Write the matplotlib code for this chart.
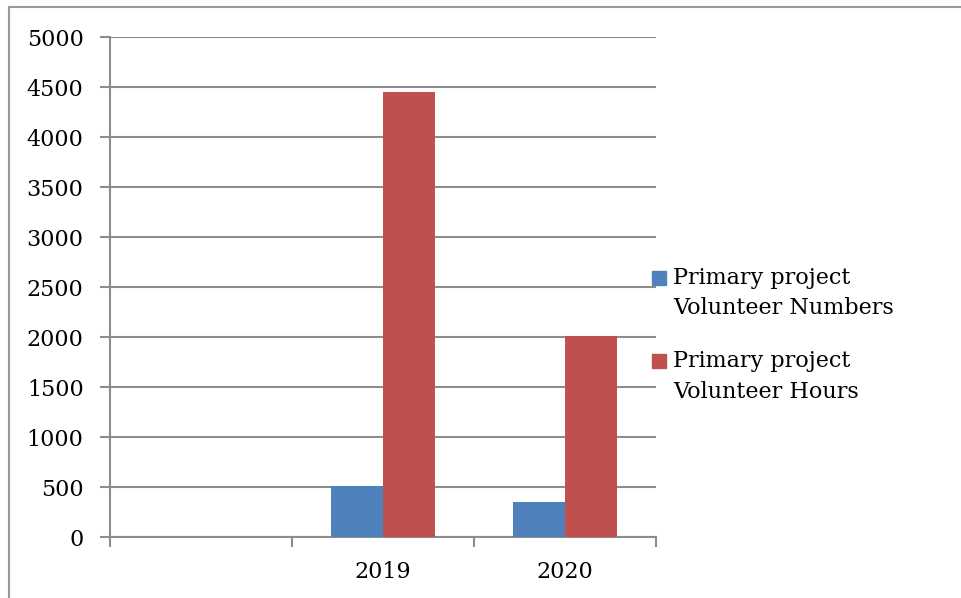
import numpy as np
import matplotlib.pyplot as plt
from matplotlib.patches import Rectangle
from matplotlib.lines import Line2D

# Data
categories = ['', '2019', '2020']
volunteer_numbers = [0, 515, 350]
volunteer_hours = [0, 4450, 2010]
series_labels = ['Primary project\nVolunteer Numbers', 'Primary project\nVolunteer Hours']
colors = ['#4f81bd', '#c0504d']

plt.rcParams['font.family'] = ['DejaVu Serif']
fs = 16

fig = plt.figure(figsize=(9.62, 5.98), dpi=100)
ax = fig.add_axes([110 / 962, 1 - 537 / 598, 546 / 962, 500 / 598])

x = np.arange(len(categories))
w = 0.286
ax.bar(x - w / 2, volunteer_numbers, w, color=colors[0], zorder=3)
ax.bar(x + w / 2, volunteer_hours, w, color=colors[1], zorder=3)

ax.set_xlim(-0.5, len(categories) - 0.5)
ax.set_ylim(0, 5000)
ax.set_yticks(np.arange(0, 5001, 500))
ax.yaxis.grid(True, color='#8c8c8c', linewidth=1.5, zorder=0)
ax.set_axisbelow(True)

# category boundaries get the tick marks, labels sit at the centres
ax.set_xticks(np.arange(-0.5, len(categories), 1.0))
ax.set_xticklabels([])
ax.set_xticks(x, minor=True)
ax.set_xticklabels(categories, minor=True, fontsize=fs)
ax.tick_params(axis='x', which='major', length=7, width=1.5, color='#8c8c8c', direction='out')
ax.tick_params(axis='x', which='minor', length=0, pad=17)
ax.tick_params(axis='y', length=7, width=1.5, color='#8c8c8c', labelsize=fs, pad=12)

for s in ['top', 'right']:
    ax.spines[s].set_visible(False)
for s in ['left', 'bottom']:
    ax.spines[s].set_color('#8c8c8c')
    ax.spines[s].set_linewidth(1.5)

# legend drawn by hand so the marker sits on the first line
leg_y = [278, 361]
for c, lab, yy in zip(colors, series_labels, leg_y):
    fig.patches.append(Rectangle((652 / 962, 1 - (yy + 7) / 598), 14 / 962, 14 / 598,
                                 transform=fig.transFigure, color=c))
    fig.text(673 / 962, 1 - (yy - 11) / 598, lab, fontsize=fs, va='top', ha='left',
             linespacing=1.5)

# outer frame (top and left visible)
fig.add_artist(Line2D([9 / 962, 1], [1 - 7 / 598, 1 - 7 / 598], transform=fig.transFigure,
                      color='#999999', linewidth=1.5))
fig.add_artist(Line2D([9 / 962, 9 / 962], [0, 1 - 7 / 598], transform=fig.transFigure,
                      color='#999999', linewidth=1.5))

fig.savefig('out.png', dpi=100)
